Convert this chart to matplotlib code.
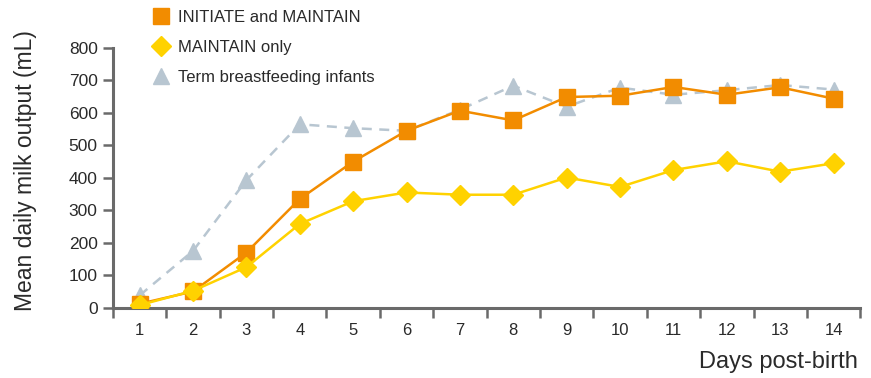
import matplotlib.pyplot as plt
from matplotlib.lines import Line2D

plt.rcParams['font.family'] = ['Liberation Sans', 'DejaVu Sans']

# 데이터
days = list(range(1, 15))
initiate = [12, 50, 170, 335, 450, 545, 607, 577, 649, 653, 680, 656, 679, 644]
maintain = [8, 52, 125, 258, 328, 355, 348, 348, 401, 372, 424, 451, 419, 445]
term = [38, 175, 393, 565, 553, 545, 610, 684, 619, 678, 656, 670, 686, 672]
labels = ['INITIATE and MAINTAIN', 'MAINTAIN only', 'Term breastfeeding infants']
yticks = [0, 100, 200, 300, 400, 500, 600, 700, 800]

ORANGE = '#F28C00'
YELLOW = '#FFD200'
GREY = '#B8C6D1'
AXIS = '#6a6a6a'
TEXT = '#2a2a2a'

fig = plt.figure(figsize=(8.71, 3.78), dpi=100)
ax = fig.add_axes([0.1297, 0.186, 0.858, 0.687])

ax.plot(days, term, '--', color=GREY, lw=1.8, dashes=(4, 3),
        marker='^', ms=11, mec=GREY, mfc=GREY, zorder=2)
ax.plot(days, initiate, '-', color=ORANGE, lw=1.8,
        marker='s', ms=11.5, mec=ORANGE, mfc=ORANGE, zorder=3)
ax.plot(days, maintain, '-', color=YELLOW, lw=1.8,
        marker='D', ms=10.5, mec=YELLOW, mfc=YELLOW, zorder=4)

ax.set_xlim(0.5, 14.5)
ax.set_ylim(0, 800)
ax.set_yticks(yticks)
ax.set_xticks(days)
ax.set_xticks([d + 0.5 for d in range(0, 15)], minor=True)
ax.tick_params(axis='x', which='major', length=0, pad=11, labelsize=12, labelcolor=TEXT)
ax.tick_params(axis='x', which='minor', length=7, width=1.8, color=AXIS, direction='out')
ax.tick_params(axis='y', length=7, width=1.8, color=AXIS, pad=4, labelsize=12.5, labelcolor=TEXT)

for s in ['top', 'right']:
    ax.spines[s].set_visible(False)
for s in ['left', 'bottom']:
    ax.spines[s].set_color(AXIS)
    ax.spines[s].set_linewidth(2.2)

fig.text(0.029, 0.55, 'Mean daily milk output (mL)', rotation=90,
         ha='center', va='center', fontsize=16.5, color=TEXT)
fig.text(0.985, 0.042, 'Days post-birth', ha='right', va='center',
         fontsize=17, color=TEXT)

handles = [
    Line2D([], [], ls='none', marker='s', ms=11, color=ORANGE),
    Line2D([], [], ls='none', marker='D', ms=10, color=YELLOW),
    Line2D([], [], ls='none', marker='^', ms=11, color=GREY),
]
fig.legend(handles, labels, loc='upper left', bbox_to_anchor=(0.162, 1.005),
           frameon=False, fontsize=12, handlelength=1.0, handletextpad=0.5,
           labelspacing=0.9, labelcolor=TEXT, borderaxespad=0.3)

fig.savefig('out.png', dpi=100)
